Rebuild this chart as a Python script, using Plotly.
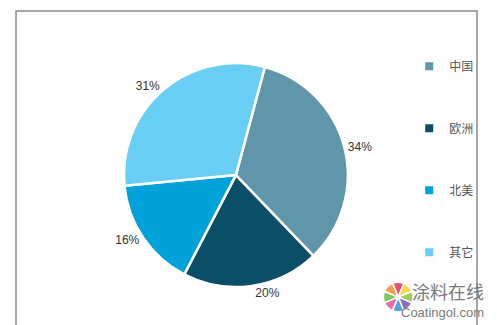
import plotly.graph_objects as go

regions = ["中国", "欧洲", "北美", "其它"]
shares = [34, 20, 16, 31]
colors = ["#6096AA", "#0A4E67", "#00A2D9", "#68CEF4"]

logo_petals = [1, 1, 1, 1, 1, 1, 1, 1]
logo_colors = ["#EE4F6B", "#F9D648", "#9ACF55", "#8E6BBF", "#4FA3E0", "#E96BA8", "#7DC95E", "#F59D4A"]

W, H = 497, 325
ML, MR, MT, MB = 16, 20, 11, 0

fig = go.Figure()
fig.add_trace(go.Pie(
    labels=regions, values=shares, sort=False, direction="clockwise", rotation=15,
    marker=dict(colors=colors, line=dict(color="white", width=2.5)),
    texttemplate="%{value}%", textposition="outside",
    outsidetextfont=dict(family="Liberation Sans, Arial", size=12, color="#333333"),
    showlegend=False, hoverinfo="label+percent",
    domain=dict(x=[0.234, 0.720], y=[0.121, 0.834]),
))

# watermark logo (pinwheel)
fig.add_trace(go.Pie(
    values=logo_petals, sort=False, direction="clockwise", rotation=-22,
    marker=dict(colors=logo_colors, line=dict(color="white", width=1.5)),
    textinfo="none", showlegend=False, hoverinfo="skip", hole=0.15,
    domain=dict(x=[0.797, 0.861], y=[0.042, 0.136]),
))

for name, c in zip(regions, colors):
    fig.add_trace(go.Scatter(
        x=[None], y=[None], mode="markers", name=name, legendgroup=name,
        marker=dict(symbol="square", size=8, color=c),
    ))

fig.update_layout(
    width=W, height=H, margin=dict(l=ML, r=MR, t=MT, b=MB),
    paper_bgcolor="white", plot_bgcolor="white",
    xaxis=dict(visible=False), yaxis=dict(visible=False),
    legend=dict(x=0.853, y=0.87, xanchor="left", yanchor="top",
                traceorder="grouped", tracegroupgap=43,
                font=dict(family="Noto Sans CJK SC", size=12, color="#555555"),
                itemwidth=30, bgcolor="rgba(0,0,0,0)"),
    shapes=[dict(type="rect", xref="paper", yref="paper", x0=0, x1=1, y0=-0.2, y1=1,
                 line=dict(color="#8a8a8a", width=1.5), fillcolor="rgba(0,0,0,0)")],
    annotations=[
        dict(text="图：全球<span style='color:#E8A040'>涂料市场</span>区域分布结构", xref="paper", yref="paper",
             x=0.52, y=1.0, yshift=10, xanchor="center", yanchor="bottom", showarrow=False,
             font=dict(family="Noto Sans CJK SC", size=13, color="#777777")),
        dict(text="涂料在线", xref="paper", yref="paper", x=1.02, y=0.06, xanchor="right", yanchor="bottom",
             showarrow=False, font=dict(family="Noto Sans CJK SC", size=18, color="#7a7a7a")),
        dict(text="Coatingol.com", xref="paper", yref="paper", x=1.02, y=0.01, xanchor="right", yanchor="bottom",
             showarrow=False, font=dict(family="Liberation Sans, Arial", size=13, color="#7a7a7a")),
    ],
)

fig.write_html("out.html")
